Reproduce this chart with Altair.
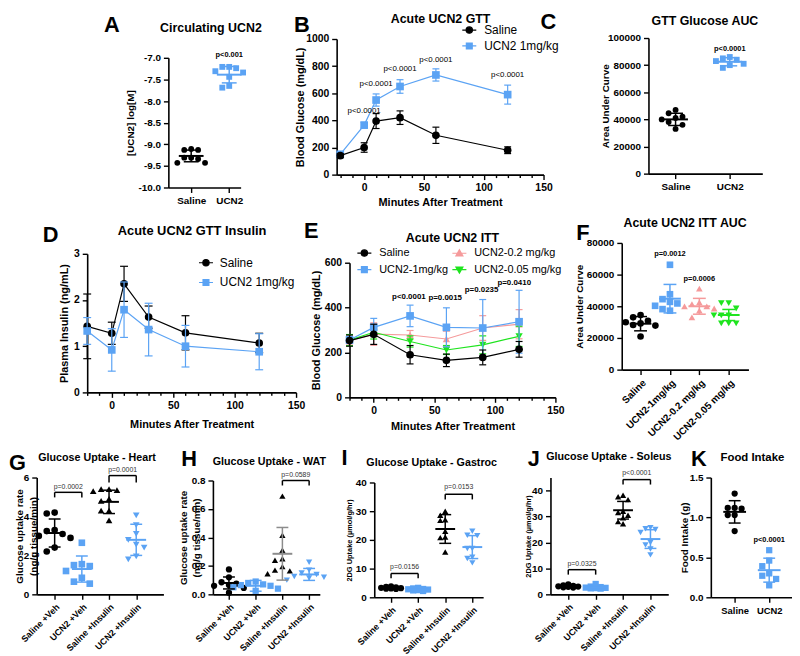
import json
import pandas as pd
import altair as alt

FONT = "Liberation Sans"
BLACK = "#000000"
BLUE = "#5ba3f4"
PINK = "#f59a9b"
GREEN = "#1ee41e"
GRAY = "#8c8c8c"

# ===================== DATA =====================
# A - Circulating UCN2
A_CATS = ["Saline", "UCN2"]
A_SALINE = [-9.11, -9.13, -9.13, -9.31, -9.34, -9.31, -9.43, -9.43]
A_UCN2 = [-7.21, -7.21, -7.24, -7.34, -7.31, -7.44, -7.65, -7.69]
A_MEAN = [-9.27, -7.39]
A_SD = [0.135, 0.19]
A_PTEXT = ["p<0.001"]
A_PY = [-6.93]

# B - Acute UCN2 GTT
B_TIME = [-20, 0, 10, 30, 60, 120]
B_SALINE = [140, 200, 395, 420, 290, 180]
B_SALINE_SD = [15, 35, 55, 50, 60, 25]
B_UCN2 = [150, 365, 550, 650, 735, 590]
B_UCN2_SD = [15, 20, 45, 50, 45, 70]
B_P_TIME = [0, 10, 30, 60, 120]
B_P_Y = [467, 671, 781, 847, 737]
B_P_TEXT = ["p<0.0001", "p<0.0001", "p<0.0001", "p<0.0001", "p<0.0001"]

# C - GTT Glucose AUC
C_CATS = ["Saline", "UCN2"]
C_SALINE = [47000, 44500, 42000, 41000, 40000, 38000, 36000, 33000]
C_UCN2 = [86000, 85000, 84000, 83000, 81000, 80000, 78000]
C_MEAN = [40000, 82500]
C_SD = [4500, 3000]
C_PTEXT = ["p<0.0001"]
C_PY = [92000]

# D - Acute UCN2 GTT Insulin
D_TIME = [-20, 0, 10, 30, 60, 120]
D_SALINE = [1.43, 1.28, 2.35, 1.63, 1.29, 1.07]
D_SALINE_SD = [0.70, 0.24, 0.38, 0.24, 0.37, 0.21]
D_UCN2 = [1.33, 0.92, 1.79, 1.36, 1.00, 0.88]
D_UCN2_SD = [0.29, 0.46, 0.60, 0.57, 0.45, 0.39]

# E - Acute UCN2 ITT
E_TIME = [-20, 0, 30, 60, 90, 120]
E_SALINE = [253, 281, 190, 165, 178, 214]
E_SALINE_SD = [25, 45, 41, 28, 33, 35]
E_UCN2_1 = [256, 312, 363, 312, 309, 337]
E_UCN2_1_SD = [15, 40, 48, 87, 127, 140]
E_UCN2_02 = [253, 282, 278, 260, 309, 326]
E_UCN2_02_SD = [20, 50, 20, 35, 55, 65]
E_UCN2_005 = [255, 290, 249, 211, 234, 272]
E_UCN2_005_SD = [25, 30, 25, 20, 40, 45]
E_P_TIME = [29, 59, 89, 116]
E_P_Y = [448, 443, 478, 509]
E_P_TEXT = ["p<0.0001", "p=0.0015", "p=0.0235", "p=0.0410"]

# F - Acute UCN2 ITT AUC
F_CATS = ["Saline", "UCN2-1mg/kg", "UCN2-0.2 mg/kg", "UCN2-0.05 mg/kg"]
F_SALINE = [34500, 33000, 30900, 29900, 29200, 28200, 27800, 20900]
F_UCN2_1 = [66200, 47600, 44500, 42800, 41800, 40300, 38200, 37200]
F_UCN2_02 = [51200, 42400, 41400, 40000, 39900, 38600, 37200, 33000]
F_UCN2_005 = [42000, 42000, 38600, 34300, 34300, 34300, 29200, 29200, 29200]
F_MEAN = [29000, 44800, 40000, 34500]
F_SD = [4500, 9000, 5000, 3500]
F_PTEXT = ["p=0.0012", "p=0.0006"]
F_PIDX = [1, 2]
F_PY = [73100, 57500]

UPTAKE_CATS = ["Saline +Veh", "UCN2 +Veh", "Saline +Insulin", "UCN2 +Insulin"]

# G - Heart
G_SALINE_VEH = [4.2, 4.15, 3.3, 3.25, 3.1, 3.0, 2.9, 2.4, 2.2]
G_UCN2_VEH = [2.65, 1.55, 1.5, 1.45, 1.2, 0.85, 0.65, 0.55]
G_SALINE_INS = [5.4, 5.4, 5.35, 5.3, 4.9, 4.8, 4.3, 4.3, 3.8]
G_UCN2_INS = [4.05, 3.55, 3.1, 2.8, 2.55, 2.4, 1.95, 1.8]
G_MEAN = [3.15, 1.3, 4.75, 2.8]
G_SD = [0.72, 0.67, 0.6, 0.8]
G_BRACKETS = [(0, 1, 5.24, 4.98, "p=0.0002", 5.49), (2, 3, 6.1, 5.74, "p=0.0001", 6.4)]

# H - WAT
H_SALINE_VEH = [0.175, 0.12, 0.085, 0.075, 0.065, 0.06, 0.045, 0.012]
H_UCN2_VEH = [0.09, 0.08, 0.07, 0.065, 0.06, 0.05, 0.04, 0.025]
H_SALINE_INS = [0.69, 0.415, 0.31, 0.25, 0.24, 0.195, 0.17, 0.165, 0.145]
H_UCN2_INS = [0.225, 0.17, 0.15, 0.14, 0.125, 0.12, 0.115, 0.1]
H_MEAN = [0.08, 0.06, 0.285, 0.14]
H_SD = [0.042, 0.038, 0.185, 0.042]
H_BRACKETS = [(2, 3, 0.8, 0.765, "p=0.0589", 0.84)]

# I - Gastroc
I_SALINE_VEH = [3.8, 3.6, 3.5, 3.3, 3.2, 3.1, 3.0, 2.9]
I_UCN2_VEH = [3.3, 3.1, 2.9, 2.8, 2.7, 2.5, 2.4, 2.2]
I_SALINE_INS = [30.0, 28.6, 27.0, 26.8, 23.0, 21.0, 20.8, 15.8]
I_UCN2_INS = [23.0, 21.6, 21.5, 17.0, 17.0, 14.0, 13.5, 12.0]
I_MEAN = [3.3, 2.75, 23.8, 17.5]
I_SD = [0.4, 0.4, 5.0, 4.0]
I_BRACKETS = [(0, 1, 8.3, 6.6, "p=0.0156", 10.7), (2, 3, 35.9, 34.1, "p=0.0153", 38.3)]

# J - Soleus
J_SALINE_VEH = [3.8, 3.5, 3.3, 3.1, 3.0, 2.9, 2.7, 2.6]
J_UCN2_VEH = [4.0, 3.0, 2.8, 2.6, 2.5, 2.4, 2.3, 2.2]
J_SALINE_INS = [38.2, 37.6, 36.5, 32.0, 31.5, 30.5, 29.5, 28.0, 27.2]
J_UCN2_INS = [25.7, 25.3, 25.0, 23.8, 20.0, 19.0, 17.5, 15.2]
J_MEAN = [3.1, 2.7, 32.4, 21.3]
J_SD = [0.4, 0.55, 3.4, 3.6]
J_BRACKETS = [(0, 1, 9.5, 7.6, "p=0.0325", 11.8), (2, 3, 44.2, 42.3, "p<0.0001", 46.9)]

# K - Food intake
K_CATS = ["Saline", "UCN2"]
K_SALINE = [1.30, 1.12, 1.11, 1.12, 1.03, 1.03, 0.83]
K_UCN2 = [0.59, 0.46, 0.39, 0.30, 0.27, 0.23, 0.15]
K_MEAN = [1.07, 0.34]
K_SD = [0.14, 0.15]
K_PTEXT = ["p<0.0001"]
K_PY = [0.72]

# ===================== LAYOUT (page px: left, top, width, height of each plot area) =====================
TOTAL_W, TOTAL_H = 792, 640
OX, OY = 8, 8  # page margin
GEOM = {
    "A": (170, 51, 73, 131),
    "B": (340, 32, 209, 137),
    "C": (655, 31, 115, 137),
    "D": (88, 249, 211, 140),
    "E": (353, 258, 208, 136),
    "F": (628, 238, 128, 128),
    "G": (37, 475, 128, 118),
    "H": (215, 478, 108, 115),
    "I": (378, 480, 110, 116),
    "J": (556, 475, 119, 118),
    "K": (718, 475, 82, 121),
}

CIRC = "M-1,0L1,0M0.45,0A0.45,0.45,0,1,1,-0.45,0A0.45,0.45,0,1,1,0.45,0Z"
SQR = "M-1,0L1,0M-0.42,-0.42L0.42,-0.42L0.42,0.42L-0.42,0.42Z"
TUP = "M-1,0L1,0M0,-0.5L0.5,0.38L-0.5,0.38Z"
TDN = "M-1,0L1,0M0,0.5L0.5,-0.38L-0.5,-0.38Z"


def scales(key, xdom, ydom):
    left, top, w, h = GEOM[key]
    xs = alt.Scale(domain=list(xdom), range=[left - OX, left - OX + w], nice=False, zero=False)
    ys = alt.Scale(domain=list(ydom), range=[top - OY + h, top - OY], nice=False, zero=False)
    return xs, ys


def axis_offsets(key):
    left, top, w, h = GEOM[key]
    return (top - OY + h) - TOTAL_H, -(left - OX)


def deco(title, tcx, tbase, tsize, letter, lleft, lbase):
    t = alt.Chart(pd.DataFrame({"s": [title]})).mark_text(
        font=FONT, fontSize=tsize, fontWeight="bold", color=BLACK, align="center", baseline="alphabetic"
    ).encode(text="s:N", x=alt.value(tcx - OX), y=alt.value(tbase - OY))
    l = alt.Chart(pd.DataFrame({"s": [letter]})).mark_text(
        font=FONT, fontSize=22, fontWeight="bold", color=BLACK, align="left", baseline="alphabetic"
    ).encode(text="s:N", x=alt.value(lleft - OX), y=alt.value(lbase - OY))
    return [t, l]


def swarm(vals, ppy, d, nmax=3):
    order = sorted(range(len(vals)), key=lambda i: -vals[i])
    cands = [0.0]
    for k in range(1, nmax + 1):
        cands += [-k * d, k * d]
    placed = []
    offs = [0.0] * len(vals)
    for i in order:
        y = vals[i] * ppy
        chosen = None
        for c in cands:
            if all((c - px) ** 2 + (y - py) ** 2 >= (d * 0.999) ** 2 for px, py in placed):
                chosen = c
                break
        if chosen is None:
            chosen = max(cands, key=lambda c: min((c - px) ** 2 + (y - py) ** 2 for px, py in placed))
        placed.append((chosen, y))
        offs[i] = chosen
    return offs


def dot_panel(key, cats, groups, means, sds, shapes, pcols, ecols, ydom, yticks, yfmt, xdom,
              ytitle, ytcx, ytsize, ylabsize, xlabangle, xlabsize, msize, mean_px, cap_px,
              swarm_d, nmax=3, ptexts=(), brackets=(), ptsize=7.5, bsize=7,
              ylabexpr=None, ytitle_lh=None):
    left, top, w, h = GEOM[key]
    ppx = w / (xdom[1] - xdom[0])
    ppy = h / (ydom[1] - ydom[0])
    xs, ys = scales(key, xdom, ydom)
    xoff, yoff = axis_offsets(key)
    xax = alt.Axis(orient="bottom", offset=xoff, values=list(range(len(cats))),
                   labelExpr=json.dumps(cats) + "[datum.value]",
                   title=None, labelAngle=xlabangle, labelFontSize=xlabsize, labelOverlap=False,
                   labelFlush=False, tickSize=5, labelPadding=3, grid=False)
    yargs = dict(orient="left", offset=yoff, values=yticks, format=yfmt, title=ytitle, titleX=ytcx - left,
                 titleBaseline="middle", titleFontSize=ytsize, labelFontSize=ylabsize, tickSize=5,
                 labelPadding=3, grid=False, labelFlush=False, labelOverlap=False)
    if ylabexpr:
        yargs["labelExpr"] = ylabexpr
    if ytitle_lh:
        yargs["titleLineHeight"] = ytitle_lh
    yax = alt.Axis(**yargs)

    def X(f):
        return alt.X(f, scale=xs, axis=xax)

    def Y(f):
        return alt.Y(f, scale=ys, axis=yax)

    rows = []
    for i, (vals, shp, col) in enumerate(zip(groups, shapes, pcols)):
        offs = swarm(vals, ppy, swarm_d, nmax)
        for v, o in zip(vals, offs):
            rows.append({"xj": i + o / ppx, "val": v, "pcol": col, "pshape": shp})
    pts = pd.DataFrame(rows)
    st = pd.DataFrame({"idx": list(range(len(cats))), "mean": means, "sd": sds, "ecol": ecols})
    st["lo"] = st["mean"] - st["sd"]
    st["hi"] = st["mean"] + st["sd"]
    st["m1"] = st["idx"] - mean_px / 2 / ppx
    st["m2"] = st["idx"] + mean_px / 2 / ppx
    st["c1"] = st["idx"] - cap_px / 2 / ppx
    st["c2"] = st["idx"] + cap_px / 2 / ppx
    ecolor = alt.Color("ecol:N", scale=None)

    layers = [
        alt.Chart(pts).mark_point(filled=True, size=msize, opacity=1).encode(
            x=X("xj:Q"), y=Y("val:Q"), color=alt.Color("pcol:N", scale=None),
            shape=alt.Shape("pshape:N", scale=None)),
        alt.Chart(st).mark_rule(strokeWidth=1.5).encode(x=X("idx:Q"), y=Y("lo:Q"), y2="hi:Q", color=ecolor),
        alt.Chart(st).mark_rule(strokeWidth=1.5).encode(x=X("c1:Q"), x2="c2:Q", y=Y("lo:Q"), color=ecolor),
        alt.Chart(st).mark_rule(strokeWidth=1.5).encode(x=X("c1:Q"), x2="c2:Q", y=Y("hi:Q"), color=ecolor),
        alt.Chart(st).mark_rule(strokeWidth=2).encode(x=X("m1:Q"), x2="m2:Q", y=Y("mean:Q"), color=ecolor),
    ]
    if ptexts:
        pdf = pd.DataFrame({"s": [p[0] for p in ptexts], "idx": [p[1] for p in ptexts],
                            "y": [p[2] for p in ptexts]})
        layers.append(alt.Chart(pdf).mark_text(font=FONT, fontSize=ptsize, fontWeight="bold",
                                               color=BLACK, baseline="middle").encode(
            x=X("idx:Q"), y=Y("y:Q"), text="s:N"))
    if brackets:
        bdf = pd.DataFrame({"x1": [b[0] for b in brackets], "x2": [b[1] for b in brackets],
                            "yt": [b[2] for b in brackets], "yb": [b[3] for b in brackets],
                            "s": [b[4] for b in brackets], "ys": [b[5] for b in brackets]})
        bdf["xm"] = (bdf["x1"] + bdf["x2"]) / 2
        layers += [
            alt.Chart(bdf).mark_rule(strokeWidth=1.5, color=BLACK).encode(x=X("x1:Q"), x2="x2:Q", y=Y("yt:Q")),
            alt.Chart(bdf).mark_rule(strokeWidth=1.5, color=BLACK).encode(x=X("x1:Q"), y=Y("yt:Q"), y2="yb:Q"),
            alt.Chart(bdf).mark_rule(strokeWidth=1.5, color=BLACK).encode(x=X("x2:Q"), y=Y("yt:Q"), y2="yb:Q"),
            alt.Chart(bdf).mark_text(font=FONT, fontSize=bsize, color="#333333", baseline="middle").encode(
                x=X("xm:Q"), y=Y("ys:Q"), text="s:N"),
        ]
    return layers


def ts_panel(key, series, xdom, ydom, yticks, ytitle, ytcx, xtcy, legend_order, legend_kw,
             ptexts=(), ptsize=8, ptweight="normal", cap_px=7):
    left, top, w, h = GEOM[key]
    ppx = w / (xdom[1] - xdom[0])
    xs, ys = scales(key, xdom, ydom)
    xoff, yoff = axis_offsets(key)
    xax = alt.Axis(orient="bottom", offset=xoff, values=list(range(-20, 151, 10)),
                   labelExpr="datum.value % 50 === 0 ? datum.label : ''",
                   tickSize={"condition": {"test": "datum.value % 50 === 0", "value": 5}, "value": 3},
                   title="Minutes After Treatment", titleY=xtcy - (top + h), titleBaseline="middle",
                   labelOverlap=False, labelFlush=False, labelPadding=3, labelFontSize=10.5,
                   titleFontSize=11, grid=False)
    yax = alt.Axis(orient="left", offset=yoff, values=yticks, format="d", title=ytitle, titleX=ytcx - left,
                   titleBaseline="middle", tickSize=5, labelPadding=3, labelFontSize=10.5, titleFontSize=11,
                   grid=False, labelFlush=False, labelOverlap=False)

    def X(f):
        return alt.X(f, scale=xs, axis=xax)

    def Y(f):
        return alt.Y(f, scale=ys, axis=yax)

    layers = []
    for s in series:
        df = pd.DataFrame({"t": s["t"], "m": s["m"], "sd": s["sd"]})
        df["lo"] = df["m"] - df["sd"]
        df["hi"] = df["m"] + df["sd"]
        df["c1"] = df["t"] - cap_px / 2 / ppx
        df["c2"] = df["t"] + cap_px / 2 / ppx
        c = s["color"]
        layers += [
            alt.Chart(df).mark_line(color=c, strokeWidth=1.2).encode(x=X("t:Q"), y=Y("m:Q")),
            alt.Chart(df).mark_rule(color=c, strokeWidth=1.2).encode(x=X("t:Q"), y=Y("lo:Q"), y2="hi:Q"),
            alt.Chart(df).mark_rule(color=c, strokeWidth=1.2).encode(x=X("c1:Q"), x2="c2:Q", y=Y("lo:Q")),
            alt.Chart(df).mark_rule(color=c, strokeWidth=1.2).encode(x=X("c1:Q"), x2="c2:Q", y=Y("hi:Q")),
            alt.Chart(df).mark_point(filled=True, shape=s["shape"], size=s.get("size", 60), color=c,
                                     opacity=1).encode(x=X("t:Q"), y=Y("m:Q")),
        ]
    byname = {s["name"]: s for s in series}
    names = legend_order
    cols = [byname[n]["color"] for n in names]
    paths = [byname[n]["path"] for n in names]
    kw = dict(legend_kw)
    kw["legendX"] = left - OX + kw["legendX"]
    kw["legendY"] = top - OY + kw["legendY"]
    leg = alt.Legend(orient="none", title=None, labelFont=FONT, labelColor=BLACK,
                     labelFontWeight="normal", symbolSize=200, symbolStrokeWidth=1.2,
                     padding=0, symbolOpacity=1, **kw)
    ldf = pd.DataFrame({"name": names})
    layers.append(
        alt.Chart(ldf).transform_filter("false").mark_point(filled=True).encode(
            fill=alt.Fill("name:N", scale=alt.Scale(domain=names, range=cols), legend=leg),
            stroke=alt.Stroke("name:N", scale=alt.Scale(domain=names, range=cols), legend=leg),
            shape=alt.Shape("name:N", scale=alt.Scale(domain=names, range=paths), legend=leg),
        )
    )
    if ptexts:
        pdf = pd.DataFrame({"t": ptexts[0], "y": ptexts[1], "s": ptexts[2]})
        layers.append(alt.Chart(pdf).mark_text(font=FONT, fontSize=ptsize, fontWeight=ptweight,
                                               color=BLACK, baseline="middle").encode(
            x=X("t:Q"), y=Y("y:Q"), text="s:N"))
    return layers


MINUS_FIX = "replace(datum.label, '\u2212', '-')"

pA = alt.layer(*dot_panel(
    "A", A_CATS, [A_SALINE, A_UCN2], A_MEAN, A_SD, ["circle", "square"], [BLACK, BLUE], [BLACK, BLUE],
    [-10, -7], [-10, -9.5, -9, -8.5, -8, -7.5, -7], ".1f", [-0.6, 1.3],
    "[UCN2] log[M]", 132, 10, 10, 0, 10, 35, 25, 15, 7,
    ptexts=list(zip(A_PTEXT, [1], A_PY)), ylabexpr=MINUS_FIX))

pB = alt.layer(*ts_panel(
    "B",
    [
        {"name": "UCN2 1mg/kg", "t": B_TIME, "m": B_UCN2, "sd": B_UCN2_SD, "color": BLUE, "shape": "square",
         "path": SQR, "size": 60},
        {"name": "Saline", "t": B_TIME, "m": B_SALINE, "sd": B_SALINE_SD, "color": BLACK, "shape": "circle",
         "path": CIRC, "size": 60},
    ],
    [-23, 150], [0, 1000], [0, 200, 400, 600, 800, 1000], "Blood Glucose (mg/dL)", 304, 197,
    ["Saline", "UCN2 1mg/kg"],
    dict(legendX=126, legendY=-17, labelFontSize=12, rowPadding=2, labelOffset=7),
    ptexts=(B_P_TIME, B_P_Y, B_P_TEXT), ptsize=8))

pC = alt.layer(*dot_panel(
    "C", C_CATS, [C_SALINE, C_UCN2], C_MEAN, C_SD, ["circle", "square"], [BLACK, BLUE], [BLACK, BLUE],
    [0, 100000], [0, 20000, 40000, 60000, 80000, 100000], "d", [-0.5, 1.6],
    "Area Under Curve", 612, 10, 10, 0, 10, 35, 25, 15, 7,
    ptexts=list(zip(C_PTEXT, [1], C_PY))))

pD = alt.layer(*ts_panel(
    "D",
    [
        {"name": "Saline", "t": D_TIME, "m": D_SALINE, "sd": D_SALINE_SD, "color": BLACK, "shape": "circle",
         "path": CIRC, "size": 60},
        {"name": "UCN2 1mg/kg", "t": D_TIME, "m": D_UCN2, "sd": D_UCN2_SD, "color": BLUE, "shape": "square",
         "path": SQR, "size": 60},
    ],
    [-20, 150], [0, 3], [0, 1, 2, 3], "Plasma Insulin (ng/mL)", 65, 421,
    ["Saline", "UCN2 1mg/kg"],
    dict(legendX=112, legendY=1, labelFontSize=12, rowPadding=6, labelOffset=6), cap_px=8))

pE = alt.layer(*ts_panel(
    "E",
    [
        {"name": "UCN2-0.2 mg/kg", "t": E_TIME, "m": E_UCN2_02, "sd": E_UCN2_02_SD, "color": PINK,
         "shape": "triangle-up", "path": TUP, "size": 55},
        {"name": "UCN2-0.05 mg/kg", "t": E_TIME, "m": E_UCN2_005, "sd": E_UCN2_005_SD, "color": GREEN,
         "shape": "triangle-down", "path": TDN, "size": 55},
        {"name": "UCN2-1mg/kg", "t": E_TIME, "m": E_UCN2_1, "sd": E_UCN2_1_SD, "color": BLUE,
         "shape": "square", "path": SQR, "size": 60},
        {"name": "Saline", "t": E_TIME, "m": E_SALINE, "sd": E_SALINE_SD, "color": BLACK,
         "shape": "circle", "path": CIRC, "size": 60},
    ],
    [-20, 150], [0, 600], [0, 200, 400, 600], "Blood Glucose (mg/dL)", 320, 423,
    ["Saline", "UCN2-1mg/kg", "UCN2-0.2 mg/kg", "UCN2-0.05 mg/kg"],
    dict(legendX=7, legendY=-18, labelFontSize=11, rowPadding=3, labelOffset=7, columns=2,
         columnPadding=1),
    ptexts=(E_P_TIME, E_P_Y, E_P_TEXT), ptsize=8, ptweight="bold"))

pF = alt.layer(*dot_panel(
    "F", F_CATS, [F_SALINE, F_UCN2_1, F_UCN2_02, F_UCN2_005], F_MEAN, F_SD,
    ["circle", "square", "triangle-up", "triangle-down"], [BLACK, BLUE, PINK, GREEN],
    [BLACK, BLUE, PINK, GREEN],
    [0, 80000], [0, 20000, 40000, 60000, 80000], "d", [-0.64, 3.67],
    "Area Under Curve", 585, 10, 10, -45, 10, 45, 22, 13, 7.5,
    ptexts=list(zip(F_PTEXT, F_PIDX, F_PY))))

ROW3_SHAPES = ["circle", "square", "triangle-up", "triangle-down"]
ROW3_COLORS = [BLACK, BLUE, BLACK, BLUE]
UPTAKE_TITLE = ["Glucose uptake rate", "(ng/g tissue/min)"]
DG_TITLE = "2DG Uptake (\u00b5mol/g/hr)"

pG = alt.layer(*dot_panel(
    "G", UPTAKE_CATS, [G_SALINE_VEH, G_UCN2_VEH, G_SALINE_INS, G_UCN2_INS], G_MEAN, G_SD,
    ROW3_SHAPES, ROW3_COLORS, ROW3_COLORS,
    [0, 6], [0, 2, 4, 6], "d", [-0.66, 4.0],
    UPTAKE_TITLE, 20, 10, 10, -45, 9, 45, 20, 12, 8, brackets=G_BRACKETS, ytitle_lh=14))

pH = alt.layer(*dot_panel(
    "H", UPTAKE_CATS, [H_SALINE_VEH, H_UCN2_VEH, H_SALINE_INS, H_UCN2_INS], H_MEAN, H_SD,
    ROW3_SHAPES, ROW3_COLORS, [BLACK, BLUE, GRAY, BLUE],
    [0, 0.8], [0, 0.2, 0.4, 0.6, 0.8], ".1f", [-0.6, 3.4],
    UPTAKE_TITLE, 185, 10, 10, -45, 9, 40, 20, 12, 7.5, brackets=H_BRACKETS, ytitle_lh=13))

pI = alt.layer(*dot_panel(
    "I", UPTAKE_CATS, [I_SALINE_VEH, I_UCN2_VEH, I_SALINE_INS, I_UCN2_INS], I_MEAN, I_SD,
    ROW3_SHAPES, ROW3_COLORS, ROW3_COLORS,
    [0, 40], [0, 10, 20, 30, 40], "d", [-0.62, 3.4],
    DG_TITLE, 353, 7.5, 10, -45, 9, 40, 20, 12, 5, nmax=2, brackets=I_BRACKETS))

pJ = alt.layer(*dot_panel(
    "J", UPTAKE_CATS, [J_SALINE_VEH, J_UCN2_VEH, J_SALINE_INS, J_UCN2_INS], J_MEAN, J_SD,
    ROW3_SHAPES, ROW3_COLORS, ROW3_COLORS,
    [0, 45], [0, 10, 20, 30, 40], "d", [-0.65, 3.65],
    DG_TITLE, 533.5, 7.5, 10, -45, 9, 40, 20, 12, 5, nmax=2, brackets=J_BRACKETS))

pK = alt.layer(*dot_panel(
    "K", K_CATS, [K_SALINE, K_UCN2], K_MEAN, K_SD, ["circle", "square"], [BLACK, BLUE], [BLACK, BLUE],
    [0, 1.5], [0, 0.5, 1.0, 1.5], ".1f", [-0.69, 1.66],
    "Food Intake (g)", 691, 10, 10, 0, 9.5, 40, 23, 12, 7,
    ptexts=list(zip(K_PTEXT, [1], K_PY))))

DECO = (
    deco("Circulating UCN2", 213, 25, 12.5, "A", 105, 25)
    + deco("Acute UCN2 GTT", 445, 16, 12.5, "B", 297, 25)
    + deco("GTT Glucose AUC", 712, 18, 12.5, "C", 546, 22)
    + deco("Acute UCN2 GTT Insulin", 194, 230, 13, "D", 43, 237)
    + deco("Acute UCN2 ITT", 457, 237, 12.5, "E", 307, 233)
    + deco("Acute UCN2 ITT AUC", 692, 222, 12.5, "F", 582, 235)
    + deco("Glucose Uptake - Heart", 98, 458, 10.8, "G", 9, 467)
    + deco("Glucose Uptake - WAT", 272, 462, 10.8, "H", 183, 463)
    + deco("Glucose Uptake - Gastroc", 436, 463, 10.8, "I", 345, 462)
    + deco("Glucose Uptake - Soleus", 615, 457, 10.8, "J", 533, 463)
    + deco("Food Intake", 760, 458, 11.5, "K", 698, 463)
)

chart = alt.layer(pA, pB, pC, pD, pE, pF, pG, pH, pI, pJ, pK, *DECO).resolve_scale(
    x="independent", y="independent", color="independent", fill="independent",
    stroke="independent", shape="independent"
).resolve_axis(
    x="independent", y="independent"
).resolve_legend(
    fill="independent", stroke="independent", shape="independent"
).properties(
    width=TOTAL_W, height=TOTAL_H, padding=0
).configure_view(
    stroke=None
).configure_axis(
    labelFont=FONT, titleFont=FONT, labelFontWeight="bold", titleFontWeight="bold",
    labelColor=BLACK, titleColor=BLACK, domainColor=BLACK, tickColor=BLACK,
    domainWidth=1.6, tickWidth=1.4, grid=False
)

chart.save("out.html", embed_options={"renderer": "svg", "actions": False})
